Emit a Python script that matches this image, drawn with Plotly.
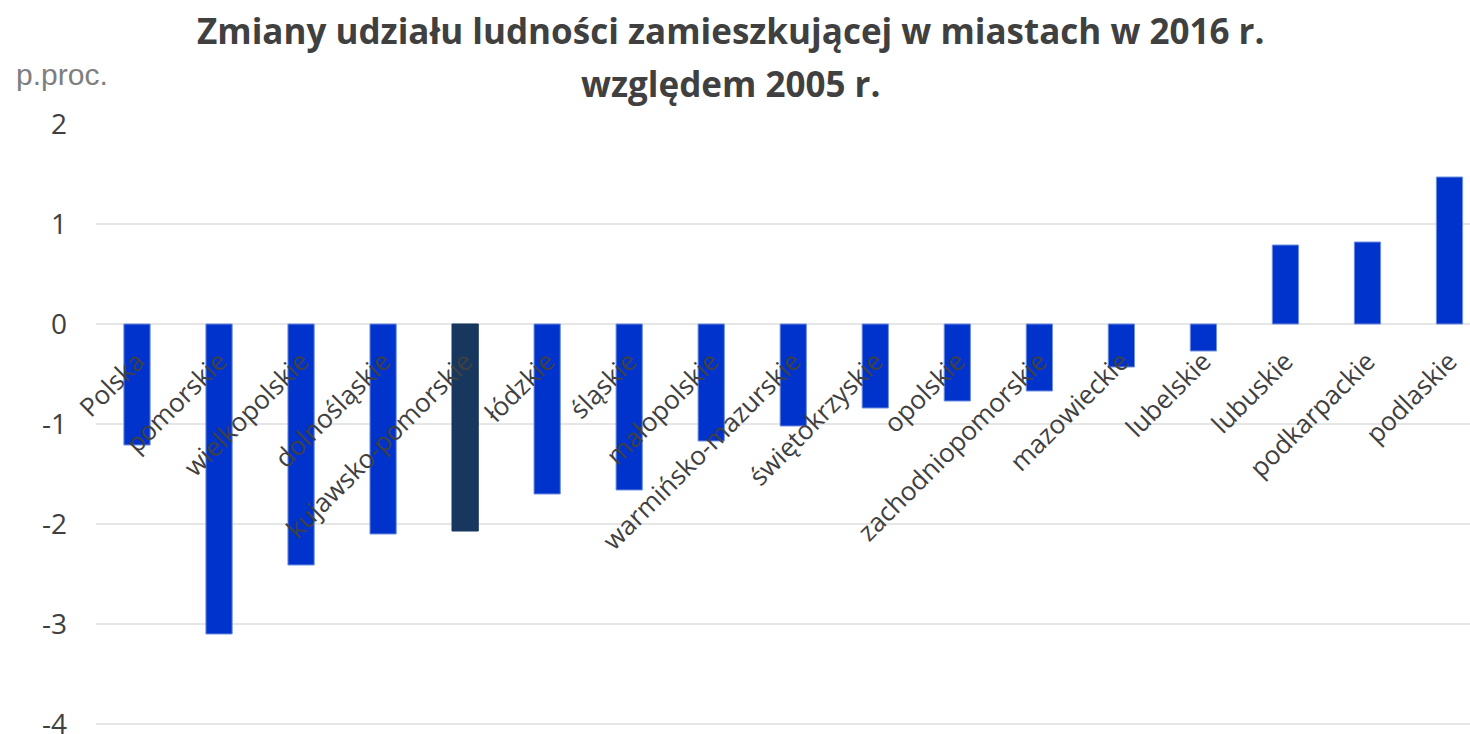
import plotly.graph_objects as go

categories = ["Polska", "pomorskie", "wielkopolskie", "dolnośląskie", "kujawsko-pomorskie",
              "łódzkie", "śląskie", "małopolskie", "warmińsko-mazurskie", "świętokrzyskie",
              "opolskie", "zachodniopomorskie", "mazowieckie", "lubelskie", "lubuskie",
              "podkarpackie", "podlaskie"]
values = [-1.21, -3.10, -2.41, -2.10, -2.07, -1.70, -1.66, -1.17, -1.02, -0.84,
          -0.77, -0.67, -0.43, -0.27, 0.79, 0.82, 1.47]
highlight = "kujawsko-pomorskie"
y_ticks = [2, 1, 0, -1, -2, -3, -4]
title_lines = ["Zmiany udziału ludności zamieszkującej w miastach w 2016 r.", "względem 2005 r."]
unit_label = "p.proc."

W, H = 1470, 734
ML, MR, MT, MB = 96, 0, 124, 5
PH = H - MT - MB
PW = W - ML - MR
Y_RANGE = [-4.05, 2]

def px_y(py):
    return 1 - (py - MT) / PH

def px_x(px):
    return (px - ML) / PW

BLUE = "#0033cc"
NAVY = "#17375e"
colors = [NAVY if c == highlight else BLUE for c in categories]
line_colors = [NAVY if c == highlight else "#7090e0" for c in categories]

fig = go.Figure()
fig.add_trace(go.Bar(
    x=categories, y=values, width=0.32,
    marker=dict(color=colors, line=dict(color=line_colors, width=1)),
    hoverinfo="x+y",
))

zero_frac = (0 - Y_RANGE[0]) / (Y_RANGE[1] - Y_RANGE[0])

fig.update_layout(
    width=W, height=H,
    margin=dict(l=ML, r=MR, t=MT, b=MB, autoexpand=False),
    plot_bgcolor="white", paper_bgcolor="white",
    showlegend=False,
    font=dict(family="Open Sans", color="#404040"),
    xaxis=dict(
        type="category", range=[-0.5, 16.25],
        anchor="free", position=zero_frac, automargin=False,
        tickangle=-45, showgrid=False, showline=False, ticks="",
        ticklabelstandoff=16,
        tickfont=dict(family="Open Sans", size=26, color="#404040"),
    ),
    yaxis=dict(
        range=Y_RANGE, tickvals=y_ticks, ticktext=[str(v) for v in y_ticks],
        showgrid=True, gridcolor="#e6e6e6", gridwidth=2,
        zeroline=True, zerolinecolor="#e6e6e6", zerolinewidth=2,
        showline=False, ticks="", ticklabelstandoff=28,
        ticklabeloverflow="allow", automargin=False,
        tickfont=dict(family="Open Sans", size=28, color="#404040"),
        domain=[0, 1],
    ),
)

fig.add_annotation(
    text=unit_label, xref="paper", yref="paper",
    x=px_x(14), y=px_y(74),
    xanchor="left", yanchor="middle", showarrow=False,
    font=dict(family="Liberation Sans", size=30, color="#7f7f7f"),
)
for i, line in enumerate(title_lines):
    fig.add_annotation(
        text="<b>" + line + "</b>", xref="paper", yref="paper",
        x=px_x(730), y=px_y(31 + 52 * i),
        xanchor="center", yanchor="middle", showarrow=False,
        font=dict(family="Open Sans", size=35, color="#404040"),
    )

fig.write_html("out.html", config={"displayModeBar": False},
               post_script="document.body.style.margin='0';")
